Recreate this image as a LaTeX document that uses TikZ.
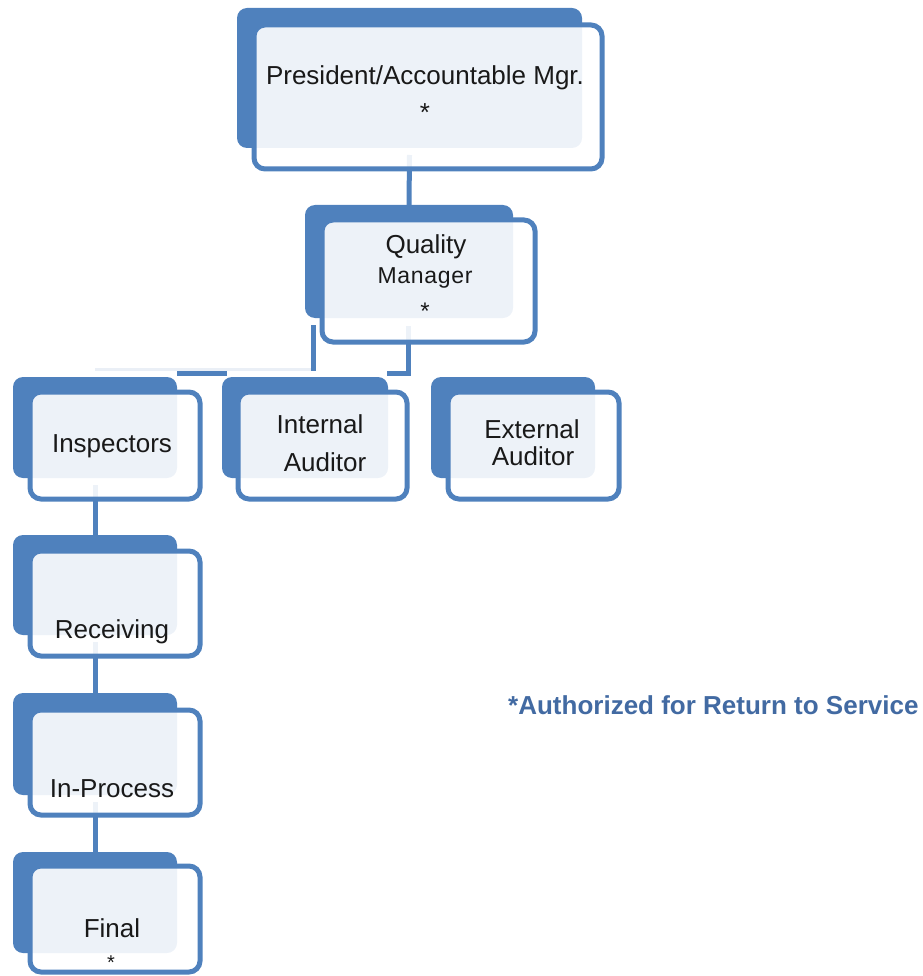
\documentclass[tikz,border=0pt]{standalone}
\usepackage{fontspec}
\setmainfont{Liberation Sans}
\definecolor{boxblue}{RGB}{79,129,189}
\definecolor{notecol}{RGB}{66,106,162}
\definecolor{faintcol}{RGB}{234,239,246}
\definecolor{txt}{RGB}{25,25,25}
\pgfdeclarelayer{connlayer}
\pgfsetlayers{connlayer,main}
\tikzset{
  backbox/.style={draw=none, fill=boxblue, rounded corners=10pt, inner sep=0pt, outer sep=0pt},
  frontbox/.style={draw=boxblue, line width=5pt, fill=white, fill opacity=0.9, rounded corners=11pt, inner sep=0pt, outer sep=0pt},
  conn/.style={draw=boxblue, line width=5pt},
  faintconn/.style={draw=faintcol, line width=3pt},
  lbl/.style={font=\fontsize{26}{31}\selectfont, text=txt, anchor=base, inner sep=0pt},
  starlbl/.style={font=\fontsize{24}{28}\selectfont, text=txt, anchor=base, inner sep=0pt},
  notelbl/.style={font=\fontsize{26}{31}\selectfont\bfseries, text=notecol, anchor=base west, inner sep=0pt},
}
\begin{document}
\begin{tikzpicture}[x=1pt,y=-1pt]
\useasboundingbox (0,0) rectangle (922,976);

% back boxes
\path
  node[backbox, minimum width=345pt, minimum height=140pt] (topB) at (409.5,78) {}
  node[backbox, minimum width=208pt, minimum height=113pt] (qmB) at (409,261.5) {}
  node[backbox, minimum width=164pt, minimum height=101pt] (inspB) at (95,427.5) {}
  node[backbox, minimum width=166pt, minimum height=101pt] (intB) at (305,427.5) {}
  node[backbox, minimum width=164pt, minimum height=101pt] (extB) at (513,427.5) {}
  node[backbox, minimum width=164pt, minimum height=100pt] (recB) at (95,585) {}
  node[backbox, minimum width=164pt, minimum height=102pt] (ipB) at (95,744) {}
  node[backbox, minimum width=164pt, minimum height=101pt] (finB) at (95,902.5) {};

% front boxes (semi-transparent white)
\path
  node[frontbox, minimum width=348pt, minimum height=144pt] (topF) at (428,97) {}
  node[frontbox, minimum width=213pt, minimum height=122pt] (qmF) at (428.5,281) {}
  node[frontbox, minimum width=170pt, minimum height=107pt] (inspF) at (115,445.5) {}
  node[frontbox, minimum width=169pt, minimum height=107pt] (intF) at (322.5,445.5) {}
  node[frontbox, minimum width=171pt, minimum height=107pt] (extF) at (533.5,445.5) {}
  node[frontbox, minimum width=170pt, minimum height=105pt] (recF) at (115,603.5) {}
  node[frontbox, minimum width=170pt, minimum height=105pt] (ipF) at (115,762.5) {}
  node[frontbox, minimum width=170pt, minimum height=106pt] (finF) at (115,919) {};

% connector helper points
\coordinate (qmDown) at (408,373);
\coordinate (qmHook) at (387,373);
\coordinate (leftTop) at (313,325);
\coordinate (leftBot) at (313,371);
\coordinate (gapL) at (177,373);
\coordinate (gapR) at (227,373);
\coordinate (faintL) at (95,369);
\coordinate (faintR) at (311,369);

\begin{pgfonlayer}{connlayer}
  \draw[conn] ([yshift=-7pt]topB.south) -- (qmB.north);
  \draw[conn] ([xshift=-1pt,yshift=-8pt]qmB.south) -- (qmDown) -- (qmHook);
  \draw[conn] (leftTop) -- (leftBot);
  \draw[conn] (gapL) -- (gapR);
  \draw[faintconn] (faintL) -- (faintR);
  \draw[conn] ([yshift=-7pt]inspB.south) -- (recB.north);
  \draw[conn] ([yshift=-7pt]recB.south) -- (ipB.north);
  \draw[conn] ([yshift=-7pt]ipB.south) -- (finB.north);
\end{pgfonlayer}

% labels
\node[lbl] (tPres) at (425,85) {President/Accountable Mgr.};
\node[lbl] (tPresS) at (425,122) {*};
\node[lbl] (tQual) at (426,253) {Quality};
\node[lbl, font=\fontsize{23}{28}\selectfont\addfontfeature{LetterSpace=3}] (tMan) at (425,283) {Manager};
\node[starlbl] (tQmS) at (425,319) {*};
\node[lbl] (tInsp) at (112,452) {Inspectors};
\node[lbl] (tInt1) at (320,433) {Internal};
\node[lbl] (tInt2) at (325,471) {Auditor};
\node[lbl] (tExt1) at (532,438) {External};
\node[lbl] (tExt2) at (533,465) {Auditor};
\node[lbl] (tRec) at (112,638) {Receiving};
\node[lbl] (tIp) at (112,797) {In-Process};
\node[lbl] (tFin) at (112,937) {Final};
\node[starlbl, font=\fontsize{20}{24}\selectfont] (tFinS) at (111,969) {*};
\node[notelbl] (tNote) at (508,714) {*Authorized for Return to Service};
\end{tikzpicture}
\end{document}
